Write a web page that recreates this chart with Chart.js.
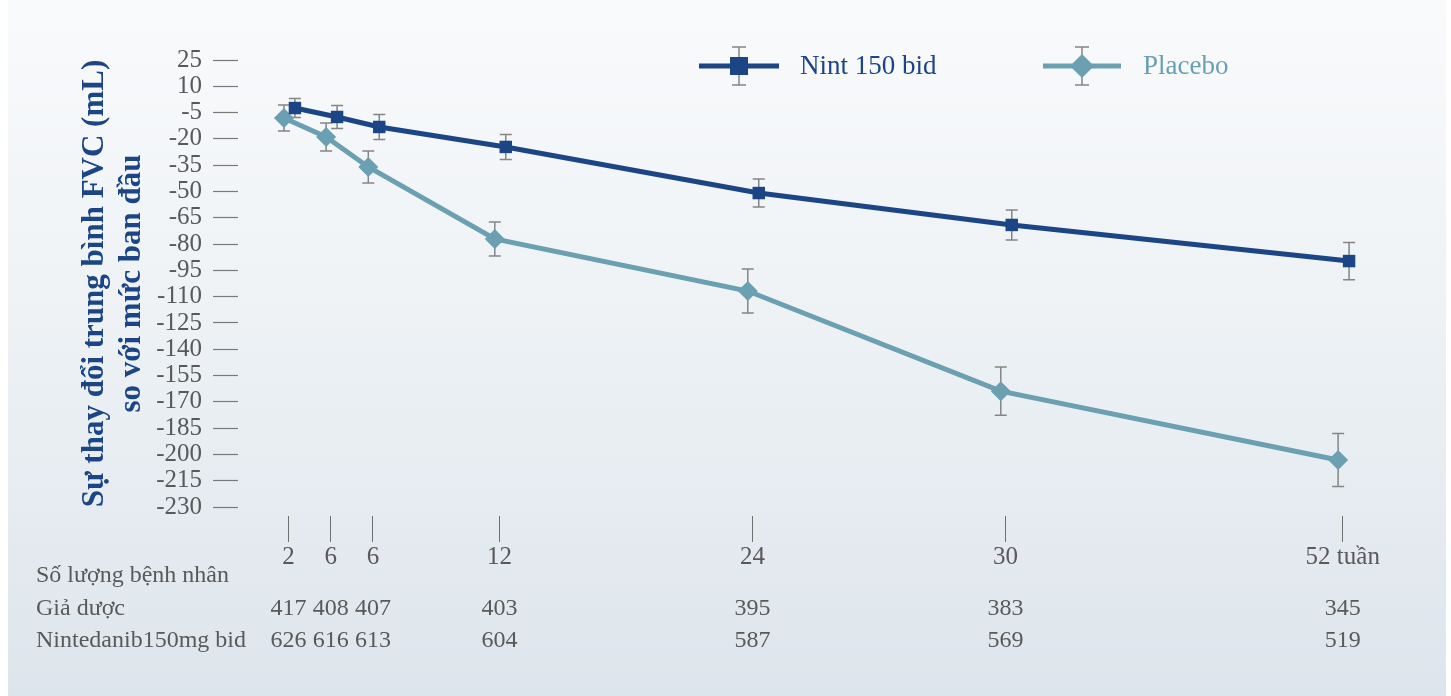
<!DOCTYPE html>
<html>
<head>
<meta charset="utf-8">
<script src="https://cdn.jsdelivr.net/npm/chart.js@4/dist/chart.umd.min.js"></script>
<style type="text/css">
    html, body {
        margin: 0;
        padding: 0;
        background: #ffffff;
    }
    #fvcChart {
        display: block;
    }
</style>
</head>
<body>
<canvas id="fvcChart" width="1451" height="696"></canvas>

<script type="text/javascript">
// visits (weeks) and where each one sits along the horizontal axis
const weekSlots = [0, 1, 2, 5, 11, 17, 25];
const weekLabels = ['2', '6', '6', '12', '24', '30', '52 tuần'];
const yTickValues = [25, 10, -5, -20, -35, -50, -65, -80, -95, -110, -125, -140, -155, -170, -185, -200, -215, -230];

// mean change from baseline (mL) and error bar half-widths
const nintMean = [-2.4, -7.5, -13.2, -24.6, -50.9, -69.1, -89.7];
const nintErr = [5.4, 6.6, 7.1, 7.1, 8.0, 8.6, 10.6];
const placeboMean = [-8.1, -18.9, -36.0, -77.1, -106.8, -163.9, -203.2];
const placeboErr = [7.4, 8.0, 9.1, 9.7, 12.6, 13.7, 15.1];

// small horizontal nudge so the two series don't sit on top of each other
const nintShift = 0.15;
const placeboShift = -0.11;

// patients at each visit
const placeboCount = [417, 408, 407, 403, 395, 383, 345];
const nintCount = [626, 616, 613, 604, 587, 569, 519];

const NINT_COLOR = '#1b4585';
const PLACEBO_COLOR = '#6aa0b1';
const TEXT_COLOR = '#595959';
const ERR_COLOR = '#858585';
const SERIF = '"Liberation Serif", "Times New Roman", serif';

function points(means, shift) {
    return weekSlots.map((s, i) => ({ x: s + shift, y: means[i] }));
}

function errorBar(ctx, x, yTop, yBottom, cap) {
    ctx.beginPath();
    ctx.moveTo(x, yTop);
    ctx.lineTo(x, yBottom);
    ctx.moveTo(x - cap, yTop);
    ctx.lineTo(x + cap, yTop);
    ctx.moveTo(x - cap, yBottom);
    ctx.lineTo(x + cap, yBottom);
    ctx.stroke();
}

const panelBackground = {
    id: 'panelBackground',
    beforeDraw(chart) {
        const ctx = chart.ctx;
        const g = ctx.createLinearGradient(0, 0, 0, chart.height);
        g.addColorStop(0, '#f9fafc');
        g.addColorStop(0.45, '#eef2f5');
        g.addColorStop(1, '#dde5ec');
        ctx.save();
        ctx.fillStyle = g;
        ctx.fillRect(8, 0, 1438, chart.height);
        ctx.restore();
    }
};

const errorBars = {
    id: 'errorBars',
    beforeDatasetsDraw(chart) {
        const ctx = chart.ctx;
        const yScale = chart.scales.y;
        const errs = [nintErr, placeboErr];
        ctx.save();
        ctx.strokeStyle = ERR_COLOR;
        ctx.lineWidth = 1.5;
        chart.data.datasets.forEach((ds, d) => {
            chart.getDatasetMeta(d).data.forEach((pt, i) => {
                const v = ds.data[i].y;
                errorBar(ctx, pt.x, yScale.getPixelForValue(v + errs[d][i]), yScale.getPixelForValue(v - errs[d][i]), 6);
            });
        });
        ctx.restore();
    }
};

const legendAndTable = {
    id: 'legendAndTable',
    afterDraw(chart) {
        const ctx = chart.ctx;
        const xScale = chart.scales.x;
        ctx.save();

        // legend: line + marker + error bar, then the name
        const legendY = 66;
        ctx.lineWidth = 5;
        ctx.strokeStyle = NINT_COLOR;
        ctx.beginPath(); ctx.moveTo(699, legendY); ctx.lineTo(779, legendY); ctx.stroke();
        ctx.strokeStyle = PLACEBO_COLOR;
        ctx.beginPath(); ctx.moveTo(1043, legendY); ctx.lineTo(1121, legendY); ctx.stroke();

        ctx.strokeStyle = ERR_COLOR;
        ctx.lineWidth = 1.5;
        errorBar(ctx, 739, legendY - 19, legendY + 19, 7);
        errorBar(ctx, 1082, legendY - 19, legendY + 19, 7);

        ctx.fillStyle = NINT_COLOR;
        ctx.fillRect(730, legendY - 9, 18, 18);
        ctx.fillStyle = PLACEBO_COLOR;
        ctx.beginPath();
        ctx.moveTo(1082, legendY - 12);
        ctx.lineTo(1094, legendY);
        ctx.lineTo(1082, legendY + 12);
        ctx.lineTo(1070, legendY);
        ctx.closePath();
        ctx.fill();

        ctx.font = '27px ' + SERIF;
        ctx.textBaseline = 'middle';
        ctx.textAlign = 'left';
        ctx.fillStyle = NINT_COLOR;
        ctx.fillText('Nint 150 bid', 800, legendY + 1);
        ctx.fillStyle = PLACEBO_COLOR;
        ctx.fillText('Placebo', 1143, legendY + 1);

        // patient counts under the axis
        ctx.font = '24px ' + SERIF;
        ctx.textBaseline = 'alphabetic';
        ctx.fillStyle = TEXT_COLOR;
        ctx.fillText('Số lượng bệnh nhân', 36, 582);
        ctx.fillText('Giả dược', 36, 615);
        ctx.fillText('Nintedanib150mg bid', 36, 647);

        ctx.textAlign = 'center';
        weekSlots.forEach((s, i) => {
            const x = xScale.getPixelForValue(s);
            ctx.fillText(String(placeboCount[i]), x, 615);
            ctx.fillText(String(nintCount[i]), x, 647);
        });
        ctx.restore();
    }
};

new Chart(document.getElementById('fvcChart'), {
    type: 'line',
    data: {
        datasets: [{
            label: 'Nint 150 bid',
            data: points(nintMean, nintShift),
            borderColor: NINT_COLOR,
            backgroundColor: NINT_COLOR,
            borderWidth: 5,
            pointStyle: 'rect',
            pointRadius: 8.8,
            pointBorderWidth: 0,
            pointBackgroundColor: NINT_COLOR,
            tension: 0,
            clip: false
        }, {
            label: 'Placebo',
            data: points(placeboMean, placeboShift),
            borderColor: PLACEBO_COLOR,
            backgroundColor: PLACEBO_COLOR,
            borderWidth: 5,
            pointStyle: 'rectRot',
            pointRadius: 10,
            pointBorderWidth: 0,
            pointBackgroundColor: PLACEBO_COLOR,
            tension: 0,
            clip: false
        }]
    },
    options: {
        responsive: false,
        animation: false,
        layout: {
            padding: { left: 8, right: 45, top: 60, bottom: 124 }
        },
        plugins: {
            legend: { display: false },
            tooltip: { enabled: false }
        },
        scales: {
            x: {
                type: 'linear',
                min: -1.2,
                max: 26.5,
                afterBuildTicks: scale => {
                    scale.ticks = weekSlots.map(v => ({ value: v }));
                },
                afterFit: scale => {
                    scale.height = 65;
                },
                border: { display: false },
                grid: {
                    drawOnChartArea: false,
                    tickLength: 35,
                    tickColor: '#707070',
                    tickWidth: 1,
                    tickBorderDash: [0, 9, 26, 9]
                },
                ticks: {
                    autoSkip: false,
                    maxRotation: 0,
                    padding: 0,
                    color: TEXT_COLOR,
                    font: { family: SERIF, size: 25 },
                    callback: (value, index) => weekLabels[index]
                }
            },
            y: {
                min: -230,
                max: 25,
                afterBuildTicks: scale => {
                    scale.ticks = yTickValues.map(v => ({ value: v }));
                },
                afterFit: scale => {
                    scale.width = 230;
                },
                border: { display: false },
                grid: {
                    drawOnChartArea: false,
                    tickLength: 25,
                    tickColor: '#7a7a7a',
                    tickWidth: 1.2
                },
                ticks: {
                    autoSkip: false,
                    padding: 11,
                    color: TEXT_COLOR,
                    font: { family: SERIF, size: 25 }
                },
                title: {
                    display: true,
                    text: ['Sự thay đổi trung bình FVC (mL)', 'so với mức ban đầu'],
                    color: NINT_COLOR,
                    font: { family: SERIF, size: 31, weight: 'bold' },
                    padding: { top: 68, bottom: 0 }
                }
            }
        }
    },
    plugins: [panelBackground, errorBars, legendAndTable]
});
</script>
</body>
</html>
